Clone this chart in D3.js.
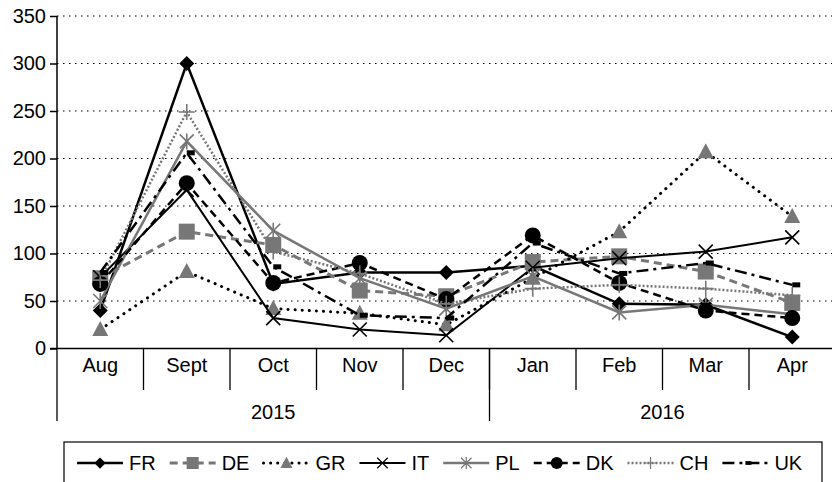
<!DOCTYPE html>
<html>
<head>
<meta charset="utf-8">
<script src="https://cdn.jsdelivr.net/npm/d3@7"></script>
<style>
  body { margin: 0; background: #fff; }
  svg { display: block; font-family: "Liberation Sans", Arial, sans-serif; }
</style>
</head>
<body>
<div id="app"></div>
<script>
// data
const months = ['Aug', 'Sept', 'Oct', 'Nov', 'Dec', 'Jan', 'Feb', 'Mar', 'Apr'];
const years = [
  { label: '2015', from: 'Aug', to: 'Dec' },
  { label: '2016', from: 'Jan', to: 'Apr' },
];
const yTicks = [0, 50, 100, 150, 200, 250, 300, 350];

const FR = [40, 300, 68, 80, 80, 87, 47, 46, 12];
const DE = [74, 123, 109, 61, 55, 91, 97, 81, 48];
const GR = [20, 81, 42, 37, 25, 74, 123, 207, 139];
const IT = [75, 167, 32, 20, 14, 85, 95, 102, 117];
const PL = [50, 218, 124, 74, 42, 76, 38, 46, 36];
const DK = [68, 174, 69, 90, 52, 119, 69, 40, 32];
const CH = [72, 249, 102, 79, 47, 63, 67, 63, 56];
const UK = [80, 206, 86, 35, 32, 111, 79, 90, 67];

const gray = '#777';
const FS = 20;
const series = [
  { name: 'FR', values: FR, color: '#000', width: 2.5, dash: null, marker: 'diamond', mColor: '#000' },
  { name: 'DE', values: DE, color: gray, width: 3, dash: '8 5', marker: 'square', mColor: gray },
  { name: 'GR', values: GR, color: '#000', width: 3, dash: '0.1 7', cap: 'round', marker: 'triangle', mColor: gray },
  { name: 'IT', values: IT, color: '#000', width: 2, dash: null, marker: 'x', mColor: '#000' },
  { name: 'PL', values: PL, color: gray, width: 2.5, dash: null, marker: 'star', mColor: gray },
  { name: 'DK', values: DK, color: '#000', width: 2.5, dash: '8 5', marker: 'circle', mColor: '#000' },
  { name: 'CH', values: CH, color: gray, width: 2.5, dash: '2 2', marker: 'plus', mColor: gray },
  { name: 'UK', values: UK, color: '#000', width: 2.5, dash: '12 5 3 5', marker: 'bar', mColor: '#000' },
];

const W = 832, H = 482;
const svg = d3.select('#app').append('svg').attr('width', W).attr('height', H);

const x = d3.scaleBand().domain(months).range([57, 835.5]);
const y = d3.scaleLinear().domain([0, 350]).range([348.5, 16]);
const cx = (m) => x(m) + x.bandwidth() / 2;

// dotted gridlines
svg.append('g')
  .selectAll('line')
  .data(yTicks.filter((d) => d > 0))
  .join('line')
  .attr('x1', 57).attr('x2', W)
  .attr('y1', (d) => y(d)).attr('y2', (d) => y(d))
  .attr('stroke', '#000')
  .attr('stroke-width', 1.2)
  .attr('stroke-dasharray', '1.5 4.5');

// y axis
const yAxis = svg.append('g')
  .attr('transform', 'translate(57,0)')
  .call(d3.axisLeft(y).tickValues(yTicks).tickSize(7).tickPadding(4));
yAxis.selectAll('path, line').attr('stroke', '#000').attr('stroke-width', 1.5);
yAxis.select('.domain').attr('d', `M0,${y(350)}V${y(0)}`);
yAxis.selectAll('text').attr('font-size', FS).attr('fill', '#000')
  .attr('font-family', '"Liberation Sans", Arial, sans-serif');

// x axis (months)
const xAxis = svg.append('g')
  .attr('transform', `translate(0,${y(0)})`)
  .call(d3.axisBottom(x).tickSize(0).tickPadding(9));
xAxis.select('.domain').attr('d', `M50,0H${W}`).attr('stroke', '#000').attr('stroke-width', 1.5);
xAxis.selectAll('text').attr('font-size', FS).attr('fill', '#000')
  .attr('font-family', '"Liberation Sans", Arial, sans-serif');

// month separators
svg.append('g')
  .selectAll('line')
  .data(months.slice(1))
  .join('line')
  .attr('x1', (m) => x(m)).attr('x2', (m) => x(m))
  .attr('y1', y(0)).attr('y2', 390)
  .attr('stroke', '#000').attr('stroke-width', 1.3);

// year separators and labels
const yearEdges = [x(years[0].from)].concat(years.map((yr) => x(yr.to) + x.bandwidth()));
svg.append('g')
  .selectAll('line')
  .data(yearEdges)
  .join('line')
  .attr('x1', (d) => d).attr('x2', (d) => d)
  .attr('y1', y(0)).attr('y2', 421)
  .attr('stroke', '#000').attr('stroke-width', 1.3);

svg.append('g')
  .selectAll('text')
  .data(years)
  .join('text')
  .attr('x', (yr) => (x(yr.from) + x(yr.to) + x.bandwidth()) / 2)
  .attr('y', 412)
  .attr('dy', '0.35em')
  .attr('text-anchor', 'middle')
  .attr('font-size', FS)
  .text((yr) => yr.label);

// markers
function drawMarker(g, type, color) {
  if (type === 'diamond') {
    g.append('path').attr('d', 'M0,-7.5L7.5,0L0,7.5L-7.5,0Z').attr('fill', color);
  } else if (type === 'square') {
    g.append('rect').attr('x', -8).attr('y', -8).attr('width', 16).attr('height', 16).attr('fill', color);
  } else if (type === 'triangle') {
    g.append('path').attr('d', 'M0,-8.5L8,6.5L-8,6.5Z').attr('fill', color);
  } else if (type === 'x') {
    g.append('path').attr('d', 'M-7,-7L7,7M-7,7L7,-7').attr('stroke', color).attr('stroke-width', 1.6);
  } else if (type === 'star') {
    g.append('path').attr('d', 'M-7,-7L7,7M-7,7L7,-7M0,-8V8').attr('stroke', color).attr('stroke-width', 1.6);
  } else if (type === 'circle') {
    g.append('circle').attr('r', 8).attr('fill', color);
  } else if (type === 'plus') {
    g.append('path').attr('d', 'M-8,0H8M0,-8V8').attr('stroke', color).attr('stroke-width', 1.6);
  } else if (type === 'bar') {
    g.append('rect').attr('x', 0).attr('y', -2.5).attr('width', 8).attr('height', 5).attr('fill', color);
  }
}

const line = d3.line().x((d) => cx(d.m)).y((d) => y(d.v));

series.forEach((s) => {
  const pts = s.values.map((v, i) => ({ m: months[i], v }));
  const g = svg.append('g');
  g.append('path')
    .attr('d', line(pts))
    .attr('fill', 'none')
    .attr('stroke', s.color)
    .attr('stroke-width', s.width)
    .attr('stroke-linecap', s.cap || 'butt')
    .attr('stroke-dasharray', s.dash);
  pts.forEach((p) => {
    drawMarker(g.append('g').attr('transform', `translate(${cx(p.m)},${y(p.v)})`), s.marker, s.mColor);
  });
});

// legend
const legend = svg.append('g');
legend.append('rect')
  .attr('x', 64).attr('y', 442).attr('width', 758).attr('height', 60)
  .attr('fill', '#fff').attr('stroke', '#000').attr('stroke-width', 1.2);

let cursor = 100;
const ly = 463;
series.forEach((s) => {
  const g = legend.append('g');
  g.append('line')
    .attr('x1', cursor - 23).attr('x2', cursor + 23)
    .attr('y1', ly).attr('y2', ly)
    .attr('stroke', s.color)
    .attr('stroke-width', s.width)
    .attr('stroke-linecap', s.cap || 'butt')
    .attr('stroke-dasharray', s.dash);
  drawMarker(g.append('g').attr('transform', `translate(${cursor},${ly}) scale(0.75)`), s.marker, s.mColor);
  const t = g.append('text')
    .attr('x', cursor + 29).attr('y', ly).attr('dy', '0.35em')
    .attr('font-size', FS)
    .text(s.name);
  cursor += 29 + t.node().getComputedTextLength() + 37;
});
</script>
</body>
</html>
